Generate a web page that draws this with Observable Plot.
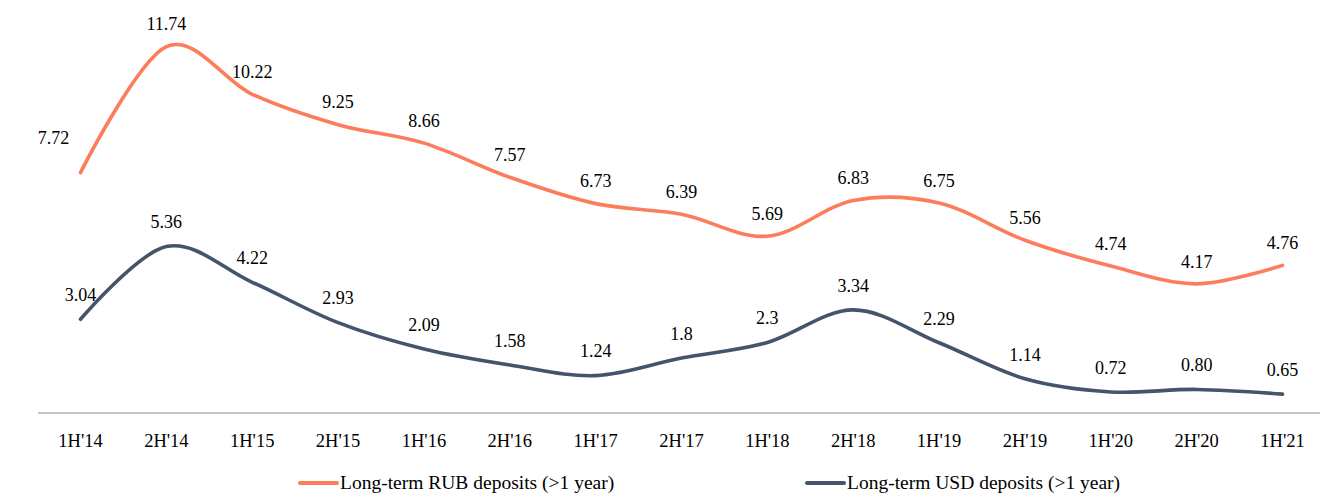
<!DOCTYPE html>
<html>
<head>
<meta charset="utf-8">
<script src="https://cdn.jsdelivr.net/npm/d3@7"></script>
<script src="https://cdn.jsdelivr.net/npm/@observablehq/plot@0.6"></script>
<style>
  html, body { margin: 0; padding: 0; background: #fff; }
  body { width: 1320px; height: 498px; overflow: hidden; font-family: "Liberation Serif", "Times New Roman", serif; }
  #legend { position: relative; height: 38px; font-size: 19.5px; color: #000; }
  .item { position: absolute; top: 12px; display: flex; align-items: center; height: 22px; }
  .sw { display: inline-block; width: 41px; height: 4px; border-radius: 2px; }
</style>
</head>
<body>
<div id="chart"></div>
<div id="legend"></div>
<script>
const periods = ["1H'14","2H'14","1H'15","2H'15","1H'16","2H'16","1H'17","2H'17","1H'18","2H'18","1H'19","2H'19","1H'20","2H'20","1H'21"];
const rubValues = [7.72, 11.74, 10.22, 9.25, 8.66, 7.57, 6.73, 6.39, 5.69, 6.83, 6.75, 5.56, 4.74, 4.17, 4.76];
const usdValues = [3.04, 5.36, 4.22, 2.93, 2.09, 1.58, 1.24, 1.8, 2.3, 3.34, 2.29, 1.14, 0.72, 0.80, 0.65];
const rubLabels = ["7.72","11.74","10.22","9.25","8.66","7.57","6.73","6.39","5.69","6.83","6.75","5.56","4.74","4.17","4.76"];
const usdLabels = ["3.04","5.36","4.22","2.93","2.09","1.58","1.24","1.8","2.3","3.34","2.29","1.14","0.72","0.80","0.65"];
const seriesNames = ["Long-term RUB deposits (>1 year)", "Long-term USD deposits (>1 year)"];
const colors = ["#fb7d5b", "#44546a"];

const rub = periods.map((p, i) => ({period: p, value: rubValues[i], label: rubLabels[i], i}));
const usd = periods.map((p, i) => ({period: p, value: usdValues[i], label: usdLabels[i], i}));

const font = "'Liberation Serif', 'Times New Roman', serif";
const chart = Plot.plot({
  width: 1320,
  height: 460,
  marginLeft: 38,
  marginRight: 0,
  marginTop: 38,
  marginBottom: 46,
  style: {fontFamily: font, fontSize: "18px", color: "#000", background: "#fff"},
  x: {type: "point", domain: periods, range: [80, 1282], padding: 0, round: false, label: null},
  y: {domain: [0, 12], axis: null},
  marks: [
    Plot.ruleY([0], {stroke: "#8c8c8c", strokeWidth: 1.2, dy: -1.5}),
    Plot.axisX({tickSize: 0, tickPadding: 19, fontSize: 18.5, fill: "#000", label: null}),
    Plot.line(rub, {x: "period", y: "value", stroke: colors[0], strokeWidth: 3.6, curve: "cardinal", tension: 0}),
    Plot.line(usd, {x: "period", y: "value", stroke: colors[1], strokeWidth: 3.6, curve: "cardinal", tension: 0}),
    Plot.text(rub.filter(d => d.i > 0), {x: "period", y: "value", text: "label", dy: -22, fontSize: 18, fill: "#000"}),
    Plot.text(rub.filter(d => d.i === 0), {x: "period", y: "value", text: "label", dx: -27, dy: -34, fontSize: 18, fill: "#000"}),
    Plot.text(usd, {x: "period", y: "value", text: "label", dy: -24, fontSize: 18, fill: "#000"})
  ]
});
document.getElementById("chart").appendChild(chart);

const legend = document.getElementById("legend");
const lefts = [298, 805];
seriesNames.forEach((name, k) => {
  const it = document.createElement("div");
  it.className = "item";
  it.style.left = lefts[k] + "px";
  const sw = document.createElement("span");
  sw.className = "sw";
  sw.style.background = colors[k];
  const tx = document.createElement("span");
  tx.textContent = name;
  tx.style.marginLeft = "1px";
  it.appendChild(sw);
  it.appendChild(tx);
  legend.appendChild(it);
});
</script>
</body>
</html>
